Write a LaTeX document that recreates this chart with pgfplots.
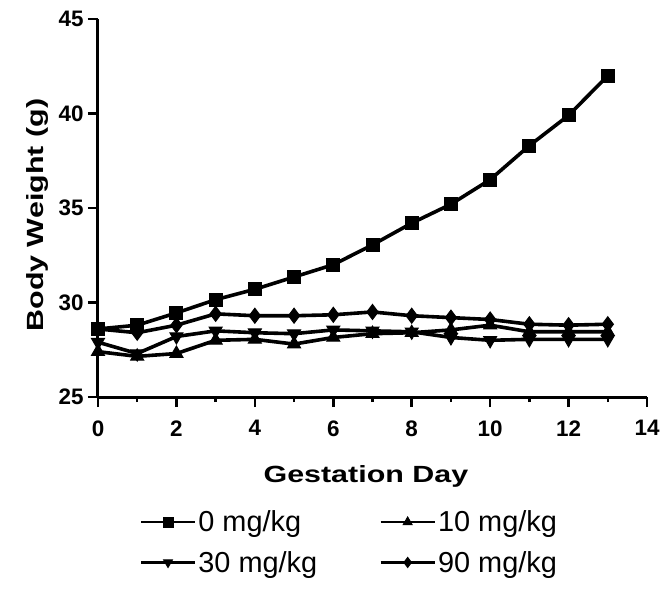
\documentclass[border=0pt]{standalone}
\usepackage{pgfplots}
\pgfplotsset{compat=1.18}
\usepackage{fontspec}
\setmainfont{Liberation Sans}
\newfontfamily\labelfont[FakeStretch=1.3]{Liberation Sans}
\begin{document}
\begin{tikzpicture}
\begin{axis}[
  at={(0,0)}, anchor=south west,
  scale only axis, width=549bp, height=378bp,
  xmin=0, xmax=14, ymin=25, ymax=45,
  axis lines=left, axis line style={-, line width=3bp},
  xtick={0,2,...,14}, minor xtick={1,3,...,13},
  ytick={25,30,...,45},
  tick align=outside, major tick length=10bp, minor tick length=5bp,
  every tick/.style={line width=2.5bp, black},
  tick label style={font=\bfseries\fontsize{22.5}{25}\selectfont},
  xticklabel style={yshift=-10bp},
  yticklabel style={xshift=-1bp},
  /pgf/number format/assume math mode=true,
  xlabel={\labelfont\bfseries Gestation Day},
  ylabel={\labelfont\bfseries Body Weight (g)},
  label style={font=\fontsize{23.5}{26}\selectfont},
  xlabel style={at={(axis description cs:0.488,-0.21)}, anchor=center},
  ylabel style={at={(axis description cs:-0.11,0.481)}, anchor=center},
  clip=false,
  legend columns=2,
  legend cell align=left,
  legend style={draw=none, fill=none, at={(axis description cs:0.07,-0.29)}, anchor=north west,
    font=\fontsize{29}{32}\selectfont, row sep=14bp,
    /tikz/every even column/.append style={column sep=60bp},
    nodes={inner sep=2bp}},
  legend image code/.code={\draw[line width=2.8bp, mark size=5bp, mark repeat=2, mark phase=2] plot coordinates {(0bp,0bp) (27bp,0bp) (54bp,0bp)};},
]
\addplot[black, line width=3.6bp, mark=square*, mark size=6.5bp, mark options={solid, fill=black, line width=1bp}] coordinates {
(0,28.6) (1,28.8) (2,29.45) (3,30.15) (4,30.7) (5,31.35) (6,32.0) (7,33.05) (8,34.2) (9,35.2) (10,36.5) (11,38.3) (12,39.9) (13,42.0)};
\addlegendentry{0 mg/kg}
\addplot[black, line width=3.6bp, mark=triangle*, mark size=7.5bp, mark options={solid, fill=black, line width=1bp}] coordinates {
(0,27.4) (1,27.15) (2,27.3) (3,28.0) (4,28.05) (5,27.8) (6,28.15) (7,28.35) (8,28.4) (9,28.55) (10,28.8) (11,28.45) (12,28.45) (13,28.45)};
\addlegendentry{10 mg/kg}
\addplot[black, line width=3.6bp, mark=triangle*, mark size=7.5bp, mark options={solid, fill=black, line width=1bp, rotate=180}] coordinates {
(0,27.9) (1,27.3) (2,28.2) (3,28.5) (4,28.4) (5,28.35) (6,28.55) (7,28.5) (8,28.45) (9,28.15) (10,28.0) (11,28.05) (12,28.05) (13,28.05)};
\addlegendentry{30 mg/kg}
\addplot[black, line width=3.6bp, mark=diamond*, mark size=7.5bp, mark options={solid, fill=black, line width=1bp}] coordinates {
(0,28.6) (1,28.4) (2,28.8) (3,29.4) (4,29.3) (5,29.3) (6,29.35) (7,29.5) (8,29.3) (9,29.2) (10,29.1) (11,28.85) (12,28.8) (13,28.85)};
\addlegendentry{90 mg/kg}
\end{axis}
\pgfresetboundingbox
\path[use as bounding box] (-98bp,-193bp) rectangle (564bp,397bp);
\end{tikzpicture}
\end{document}
